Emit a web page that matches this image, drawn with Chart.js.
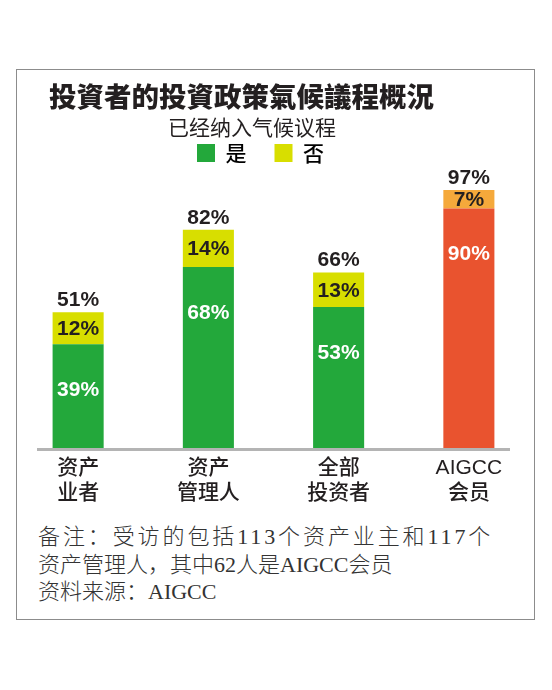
<!DOCTYPE html>
<html lang="zh">
<head>
<meta charset="utf-8">
<title>投資者的投資政策氣候議程概況</title>
<script src="https://cdn.jsdelivr.net/npm/chart.js@4.4.1/dist/chart.umd.min.js"></script>
<style>
  html, body { margin: 0; padding: 0; background: #fff; }
  body { position: relative; width: 552px; height: 690px; overflow: hidden; }
  .frame {
    position: absolute; left: 16px; top: 69px; width: 519px; height: 551px;
    box-sizing: border-box; border: 1.5px solid #8c8c8c;
  }
  #chart { position: absolute; left: -13px; top: 0; }
  .headline {
    position: absolute; left: 49px; top: 82px; margin: 0;
    font: 900 27.5px/27.5px "Noto Sans CJK TC", "Noto Sans CJK SC", sans-serif;
    color: #231f20; white-space: nowrap;
  }
  .subhead {
    position: absolute; left: 168px; top: 116px;
    font: 400 21px/21px "Noto Sans CJK SC", sans-serif;
    color: #231f20; white-space: nowrap;
  }
  .note {
    position: absolute; left: 38px;
    font: 300 22px/22px "Liberation Serif", "Noto Sans CJK SC", serif;
    color: #333; white-space: nowrap;
  }
</style>
</head>
<body>
<div class="frame"></div>
<canvas id="chart" width="565" height="520"></canvas>
<h1 class="headline">投資者的投資政策氣候議程概況</h1>
<div class="subhead">已经纳入气候议程</div>
<div class="note" style="top:526px; letter-spacing:2.9px;">备注：受访的包括113个资产业主和117个</div>
<div class="note" style="top:553.5px;">资产管理人，其中62人是AIGCC会员</div>
<div class="note" style="top:581px;">资料来源：AIGCC</div>

<script>
// data
const categories = [['资产', '业者'], ['资产', '管理人'], ['全部', '投资者'], ['AIGCC', '会员']];
const yesValues = [39, 68, 53, 90];
const noValues = [12, 14, 13, 7];
const totalValues = [51, 82, 66, 97];
const legendLabels = ['是', '否'];

// colours
const yesColors = ['#23a83b', '#23a83b', '#23a83b', '#e9532f'];
const noColors = ['#d8de00', '#d8de00', '#d8de00', '#f5a93b'];
const legendColors = ['#23a83b', '#d8de00'];
const darkText = '#231f20';

// leave a little room between legend and bars
const legendGap = {
    id: 'legendGap',
    beforeInit(chart) {
        const fit = chart.legend.fit;
        chart.legend.fit = function () {
            fit.call(this);
            this.height += 8.5;
        };
    }
};

// grey baseline under the bars
const baseLine = {
    id: 'baseLine',
    afterDatasetsDraw(chart) {
        const {ctx, chartArea} = chart;
        ctx.save();
        ctx.strokeStyle = '#b4b4b4';
        ctx.lineWidth = 3;
        ctx.beginPath();
        ctx.moveTo(chartArea.left + 24, chartArea.bottom + 1.5);
        ctx.lineTo(chartArea.right - 24, chartArea.bottom + 1.5);
        ctx.stroke();
        ctx.restore();
    }
};

// percentage labels in and above the bars
const valueLabels = {
    id: 'valueLabels',
    afterDatasetsDraw(chart) {
        const ctx = chart.ctx;
        const yScale = chart.scales.y;
        const yesBars = chart.getDatasetMeta(0).data;
        const noBars = chart.getDatasetMeta(1).data;
        ctx.save();
        ctx.font = 'bold 21px "Liberation Sans", Arial, sans-serif';
        ctx.textAlign = 'center';
        ctx.textBaseline = 'middle';
        yesBars.forEach((bar, i) => {
            ctx.fillStyle = '#ffffff';
            ctx.fillText(yesValues[i] + '%', bar.x, bar.y + 46);

            const nb = noBars[i];
            ctx.fillStyle = darkText;
            ctx.fillText(noValues[i] + '%', nb.x, (nb.y + nb.base) / 2 + 1);

            ctx.fillText(totalValues[i] + '%', bar.x, yScale.getPixelForValue(totalValues[i]) - 12);
        });
        ctx.restore();
    }
};

new Chart(document.getElementById('chart'), {
    type: 'bar',
    data: {
        labels: categories,
        datasets: [
            {
                label: legendLabels[0],
                data: yesValues,
                backgroundColor: yesColors,
                borderWidth: 0,
                barPercentage: 0.392,
                categoryPercentage: 1
            },
            {
                label: legendLabels[1],
                data: noValues,
                backgroundColor: noColors,
                borderWidth: 0,
                barPercentage: 0.392,
                categoryPercentage: 1
            }
        ]
    },
    options: {
        responsive: false,
        animation: false,
        layout: {
            padding: { left: 0, right: 18, top: 114.5, bottom: 6.9 }
        },
        plugins: {
            tooltip: { enabled: false },
            legend: {
                position: 'top',
                labels: {
                    boxWidth: 18,
                    boxHeight: 18,
                    padding: 28,
                    color: darkText,
                    font: { family: '"Noto Sans CJK SC", sans-serif', size: 21, weight: 500 },
                    generateLabels: () => legendLabels.map((text, i) => ({
                        text: text,
                        fillStyle: legendColors[i],
                        strokeStyle: legendColors[i],
                        lineWidth: 0,
                        hidden: false,
                        datasetIndex: i
                    }))
                }
            }
        },
        scales: {
            x: {
                stacked: true,
                grid: { display: false, drawTicks: false },
                border: { display: false },
                ticks: {
                    color: darkText,
                    padding: 8,
                    maxRotation: 0,
                    autoSkip: false,
                    font: { family: '"Liberation Sans", "Noto Sans CJK SC", sans-serif', size: 21, weight: 500, lineHeight: 1.17 }
                }
            },
            y: {
                stacked: true,
                min: 0,
                max: 100,
                grid: { display: false, drawTicks: false },
                border: { display: false },
                ticks: { display: false },
                afterFit(scale) {
                    scale.width = 26;
                }
            }
        }
    },
    plugins: [legendGap, baseLine, valueLabels]
});
</script>
</body>
</html>
